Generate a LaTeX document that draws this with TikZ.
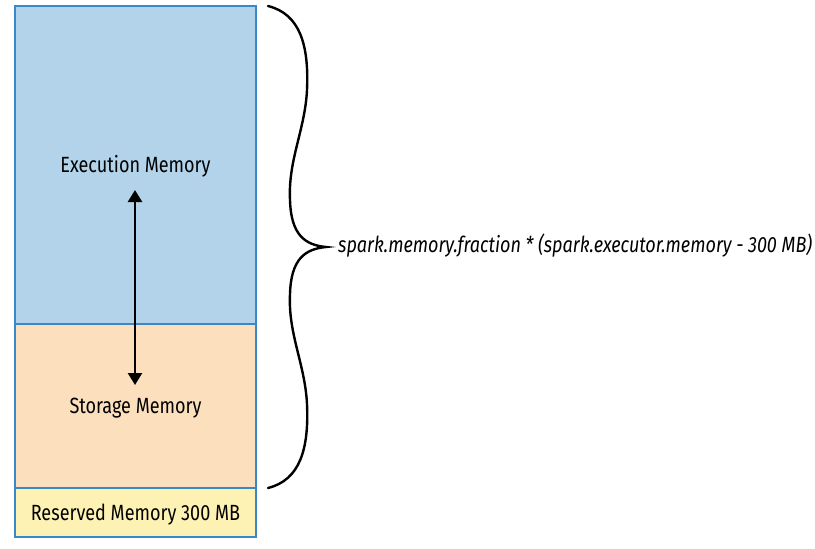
\documentclass[tikz,border=0pt]{standalone}
\usepackage{fontspec}
\setmainfont{Fira Sans}[FakeStretch=0.82]
\usetikzlibrary{arrows.meta}
\definecolor{execblue}{HTML}{B2D3E9}
\definecolor{storpeach}{HTML}{FCDFBD}
\definecolor{resyellow}{HTML}{FDF2B3}
\definecolor{edgeblue}{HTML}{3A88C8}
\tikzset{
  membox/.style={draw=edgeblue, line width=1.2pt, minimum width=241pt, inner sep=0pt, outer sep=0pt, anchor=north west, text height=15pt, text depth=0pt, font=\fontsize{22}{26}\selectfont},
  bracepath/.style={line width=2.4pt, line cap=round},
  twoarrow/.style={line width=2.4pt, {Triangle[length=12pt,width=14pt]}-{Triangle[length=12pt,width=14pt]}}
}
\begin{document}
\begin{tikzpicture}[x=1pt,y=-1pt]
\useasboundingbox (0,0) rectangle (815,549);
\node[membox, fill=execblue, minimum height=318pt] (exec) at (15,6) {Execution Memory};
\node[membox, fill=storpeach, minimum height=164pt] (stor) at (15,324) {Storage Memory};
\node[membox, fill=resyellow, minimum height=49pt] (res) at (15,488) {Reserved Memory 300 MB};
\coordinate (atop) at (135,190);
\coordinate (abot) at (135,385);
\draw[twoarrow] (atop) -- (abot);
\coordinate (btop) at (268,6);
\coordinate (btip) at (326,247);
\coordinate (bbot) at (268,488);
\draw[bracepath] (btop) .. controls (300,14) and (309,45) .. (307,90)
  .. controls (305,130) and (288,160) .. (290,200)
  .. controls (291,235) and (305,245) .. (btip)
  .. controls (305,249) and (291,259) .. (290,294)
  .. controls (288,334) and (305,364) .. (307,404)
  .. controls (309,449) and (300,480) .. (bbot);
\node[anchor=west, inner sep=0pt, text height=15pt, text depth=0pt, font=\fontsize{22}{26}\selectfont\itshape] (formula) at (338,245) {spark.memory.fraction * (spark.executor.memory - 300 MB)};
\end{tikzpicture}
\end{document}
